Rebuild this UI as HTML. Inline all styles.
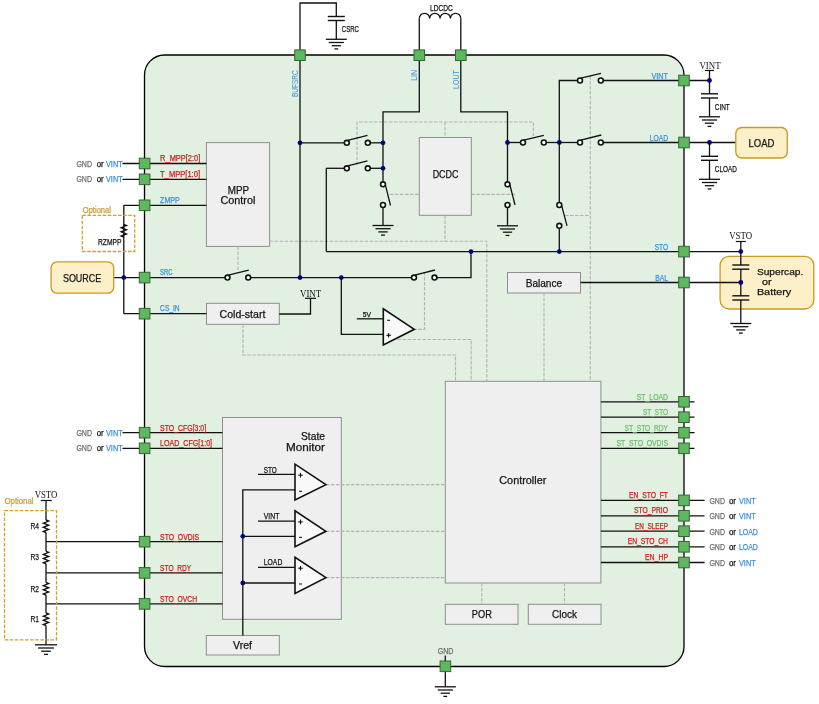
<!DOCTYPE html>
<html><head><meta charset="utf-8"><style>
html,body{margin:0;padding:0;background:#fff;width:819px;height:704px;overflow:hidden}
svg{display:block;will-change:transform}
</style></head><body>
<svg width="819" height="704" viewBox="0 0 819 704">
<rect width="819" height="704" fill="#fff"/>
<rect x="144.5" y="55" width="539.5" height="611.5" rx="20" fill="#e2f0e2" stroke="#000" stroke-width="1.3"/>
<rect x="206.4" y="142.6" width="63.20000000000002" height="103.80000000000001" rx="0" fill="#efefef" stroke="#8e8e8e" stroke-width="1"/>
<rect x="419.3" y="137.5" width="52.0" height="77.80000000000001" rx="0" fill="#efefef" stroke="#8e8e8e" stroke-width="1"/>
<rect x="507.5" y="272.5" width="73.0" height="20.5" rx="0" fill="#efefef" stroke="#8e8e8e" stroke-width="1"/>
<rect x="206.5" y="303.3" width="72.80000000000001" height="21.0" rx="0" fill="#efefef" stroke="#8e8e8e" stroke-width="1"/>
<rect x="445.3" y="381.3" width="155.59999999999997" height="201.7" rx="0" fill="#efefef" stroke="#8e8e8e" stroke-width="1"/>
<rect x="445.3" y="604.3" width="72.69999999999999" height="20.0" rx="0" fill="#efefef" stroke="#8e8e8e" stroke-width="1"/>
<rect x="528.3" y="604.3" width="72.70000000000005" height="20.0" rx="0" fill="#efefef" stroke="#8e8e8e" stroke-width="1"/>
<rect x="222.5" y="417.5" width="118.80000000000001" height="201.79999999999995" rx="0" fill="#efefef" stroke="#8e8e8e" stroke-width="1"/>
<rect x="206.3" y="635.5" width="73.0" height="19.5" rx="0" fill="#efefef" stroke="#8e8e8e" stroke-width="1"/>
<polyline points="357,165 357,122 533.3,122 533.3,136" stroke="#b3b3b3" stroke-width="1.15" fill="none" stroke-dasharray="3.6 1.4"/>
<polyline points="445,122 445,137.5" stroke="#b3b3b3" stroke-width="1.15" fill="none" stroke-dasharray="3.6 1.4"/>
<polyline points="390,194.3 419.3,194.3" stroke="#b3b3b3" stroke-width="1.15" fill="none" stroke-dasharray="3.6 1.4"/>
<polyline points="471.3,194.3 515,194.3" stroke="#b3b3b3" stroke-width="1.15" fill="none" stroke-dasharray="3.6 1.4"/>
<polyline points="445,215.3 445,241.2" stroke="#b3b3b3" stroke-width="1.15" fill="none" stroke-dasharray="3.6 1.4"/>
<polyline points="269.6,241.2 486.8,241.2 486.8,381.3" stroke="#b3b3b3" stroke-width="1.15" fill="none" stroke-dasharray="3.6 1.4"/>
<polyline points="238,246.4 238,271" stroke="#b3b3b3" stroke-width="1.15" fill="none" stroke-dasharray="3.6 1.4"/>
<polyline points="424.5,272 424.5,329.3 414.3,329.3" stroke="#b3b3b3" stroke-width="1.15" fill="none" stroke-dasharray="3.6 1.4"/>
<polyline points="397.5,339.5 471.2,339.5 471.2,381.3" stroke="#b3b3b3" stroke-width="1.15" fill="none" stroke-dasharray="3.6 1.4"/>
<polyline points="243,324.3 243,355 455.5,355 455.5,381.3" stroke="#b3b3b3" stroke-width="1.15" fill="none" stroke-dasharray="3.6 1.4"/>
<polyline points="544,293 544,381.3" stroke="#b3b3b3" stroke-width="1.15" fill="none" stroke-dasharray="3.6 1.4"/>
<polyline points="590.3,76 590.3,381.3" stroke="#b3b3b3" stroke-width="1.15" fill="none" stroke-dasharray="3.6 1.4"/>
<polyline points="565,215.5 590.3,215.5" stroke="#b3b3b3" stroke-width="1.15" fill="none" stroke-dasharray="3.6 1.4"/>
<polyline points="325.9,484.6 445.3,484.6" stroke="#b3b3b3" stroke-width="1.15" fill="none" stroke-dasharray="3.6 1.4"/>
<polyline points="325.9,531.3 445.3,531.3" stroke="#b3b3b3" stroke-width="1.15" fill="none" stroke-dasharray="3.6 1.4"/>
<polyline points="325.9,577.6 445.3,577.6" stroke="#b3b3b3" stroke-width="1.15" fill="none" stroke-dasharray="3.6 1.4"/>
<polyline points="481.8,583 481.8,604.3" stroke="#b3b3b3" stroke-width="1.15" fill="none" stroke-dasharray="3.6 1.4"/>
<polyline points="564.5,583 564.5,604.3" stroke="#b3b3b3" stroke-width="1.15" fill="none" stroke-dasharray="3.6 1.4"/>
<rect x="720.1" y="256.3" width="93.69999999999993" height="52.69999999999999" rx="9" fill="#fdf0c9" stroke="#c99a1e" stroke-width="1.3"/>
<line x1="122.5" y1="163.5" x2="206.4" y2="163.5" stroke="#111" stroke-width="1.3"/>
<line x1="122.5" y1="179.3" x2="206.4" y2="179.3" stroke="#111" stroke-width="1.3"/>
<line x1="122.5" y1="432.7" x2="222.5" y2="432.7" stroke="#111" stroke-width="1.3"/>
<line x1="122.5" y1="448.3" x2="222.5" y2="448.3" stroke="#111" stroke-width="1.3"/>
<line x1="123.8" y1="205.3" x2="206.4" y2="205.3" stroke="#111" stroke-width="1.3"/>
<line x1="123.8" y1="205.3" x2="123.8" y2="313.7" stroke="#111" stroke-width="1.3"/>
<line x1="113.7" y1="277.6" x2="225" y2="277.6" stroke="#111" stroke-width="1.3"/>
<line x1="250.7" y1="277.6" x2="411.5" y2="277.6" stroke="#111" stroke-width="1.3"/>
<line x1="123.8" y1="313.7" x2="206.5" y2="313.7" stroke="#111" stroke-width="1.3"/>
<polyline points="279.3,314 310.5,314 310.5,298.3" stroke="#111" stroke-width="1.3" fill="none" stroke-linejoin="miter"/>
<line x1="305" y1="298.3" x2="316" y2="298.3" stroke="#111" stroke-width="1.2"/>
<polyline points="300,277.6 300,3 336.3,3 336.3,16.5" stroke="#111" stroke-width="1.3" fill="none" stroke-linejoin="miter"/>
<line x1="336.3" y1="20.5" x2="336.3" y2="39.3" stroke="#111" stroke-width="1.3"/>
<line x1="327.8" y1="16.5" x2="344.8" y2="16.5" stroke="#111" stroke-width="1.4"/>
<line x1="327.8" y1="20.5" x2="344.8" y2="20.5" stroke="#111" stroke-width="1.4"/>
<line x1="325.8" y1="39.3" x2="346.8" y2="39.3" stroke="#111" stroke-width="1.3"/>
<line x1="328.74" y1="42.5" x2="343.86" y2="42.5" stroke="#111" stroke-width="1.3"/>
<line x1="331.68" y1="45.699999999999996" x2="340.92" y2="45.699999999999996" stroke="#111" stroke-width="1.3"/>
<line x1="334.41" y1="48.9" x2="338.19" y2="48.9" stroke="#111" stroke-width="1.3"/>
<line x1="300" y1="142.8" x2="344.2" y2="142.8" stroke="#111" stroke-width="1.3"/>
<line x1="370.3" y1="142.8" x2="383" y2="142.8" stroke="#111" stroke-width="1.3"/>
<line x1="326.3" y1="251.5" x2="326.3" y2="168.3" stroke="#111" stroke-width="1.3"/>
<line x1="326.3" y1="168.3" x2="344.2" y2="168.3" stroke="#111" stroke-width="1.3"/>
<line x1="370.3" y1="168.3" x2="383" y2="168.3" stroke="#111" stroke-width="1.3"/>
<polyline points="419.3,55 419.3,111.8 383,111.8 383,181.7" stroke="#111" stroke-width="1.3" fill="none" stroke-linejoin="miter"/>
<line x1="383" y1="207.5" x2="383" y2="225.5" stroke="#111" stroke-width="1.3"/>
<line x1="372.5" y1="225.5" x2="393.5" y2="225.5" stroke="#111" stroke-width="1.3"/>
<line x1="375.44" y1="228.7" x2="390.56" y2="228.7" stroke="#111" stroke-width="1.3"/>
<line x1="378.38" y1="231.9" x2="387.62" y2="231.9" stroke="#111" stroke-width="1.3"/>
<line x1="381.11" y1="235.1" x2="384.89" y2="235.1" stroke="#111" stroke-width="1.3"/>
<polyline points="419.3,55 419.3,18.5" stroke="#111" stroke-width="1.3" fill="none" stroke-linejoin="miter"/>
<polyline points="460.8,55 460.8,18.5" stroke="#111" stroke-width="1.3" fill="none" stroke-linejoin="miter"/>
<polyline points="460.8,55 460.8,111.8 507.5,111.8 507.5,181.7" stroke="#111" stroke-width="1.3" fill="none" stroke-linejoin="miter"/>
<line x1="507.5" y1="142.5" x2="520.5" y2="142.5" stroke="#111" stroke-width="1.3"/>
<line x1="546.2" y1="142.5" x2="577.5" y2="142.5" stroke="#111" stroke-width="1.3"/>
<line x1="507.5" y1="207.5" x2="507.5" y2="225.8" stroke="#111" stroke-width="1.3"/>
<line x1="497.0" y1="225.8" x2="518.0" y2="225.8" stroke="#111" stroke-width="1.3"/>
<line x1="499.94" y1="229.0" x2="515.06" y2="229.0" stroke="#111" stroke-width="1.3"/>
<line x1="502.88" y1="232.20000000000002" x2="512.12" y2="232.20000000000002" stroke="#111" stroke-width="1.3"/>
<line x1="505.61" y1="235.4" x2="509.39" y2="235.4" stroke="#111" stroke-width="1.3"/>
<polyline points="577.5,80.5 559.3,80.5 559.3,202.5" stroke="#111" stroke-width="1.3" fill="none" stroke-linejoin="miter"/>
<line x1="559.3" y1="228.3" x2="559.3" y2="251.6" stroke="#111" stroke-width="1.3"/>
<line x1="603.2" y1="80.5" x2="709.5" y2="80.5" stroke="#111" stroke-width="1.3"/>
<line x1="603.2" y1="142.5" x2="735.8" y2="142.5" stroke="#111" stroke-width="1.3"/>
<line x1="326.3" y1="251.6" x2="740.8" y2="251.6" stroke="#111" stroke-width="1.3"/>
<polyline points="471,251.6 471,277.6 437,277.6" stroke="#111" stroke-width="1.3" fill="none" stroke-linejoin="miter"/>
<line x1="580.5" y1="282.5" x2="740.8" y2="282.5" stroke="#111" stroke-width="1.3"/>
<polyline points="341.3,277.6 341.3,334.3 383.3,334.3" stroke="#111" stroke-width="1.3" fill="none" stroke-linejoin="miter"/>
<line x1="356.8" y1="318.8" x2="383.3" y2="318.8" stroke="#111" stroke-width="1.3"/>
<polyline points="709.5,70.5 709.5,93.8" stroke="#111" stroke-width="1.3" fill="none" stroke-linejoin="miter"/>
<line x1="705" y1="70.5" x2="714" y2="70.5" stroke="#111" stroke-width="1.2"/>
<line x1="701.0" y1="93.8" x2="718.0" y2="93.8" stroke="#111" stroke-width="1.4"/>
<line x1="701.0" y1="98" x2="718.0" y2="98" stroke="#111" stroke-width="1.4"/>
<line x1="709.5" y1="98" x2="709.5" y2="116.8" stroke="#111" stroke-width="1.3"/>
<line x1="699.0" y1="116.8" x2="720.0" y2="116.8" stroke="#111" stroke-width="1.3"/>
<line x1="701.94" y1="120.0" x2="717.06" y2="120.0" stroke="#111" stroke-width="1.3"/>
<line x1="704.88" y1="123.2" x2="714.12" y2="123.2" stroke="#111" stroke-width="1.3"/>
<line x1="707.61" y1="126.39999999999999" x2="711.39" y2="126.39999999999999" stroke="#111" stroke-width="1.3"/>
<line x1="709.5" y1="142.5" x2="709.5" y2="156.3" stroke="#111" stroke-width="1.3"/>
<line x1="701.0" y1="156.3" x2="718.0" y2="156.3" stroke="#111" stroke-width="1.4"/>
<line x1="701.0" y1="160.3" x2="718.0" y2="160.3" stroke="#111" stroke-width="1.4"/>
<line x1="709.5" y1="160.3" x2="709.5" y2="179.3" stroke="#111" stroke-width="1.3"/>
<line x1="699.0" y1="179.3" x2="720.0" y2="179.3" stroke="#111" stroke-width="1.3"/>
<line x1="701.94" y1="182.5" x2="717.06" y2="182.5" stroke="#111" stroke-width="1.3"/>
<line x1="704.88" y1="185.70000000000002" x2="714.12" y2="185.70000000000002" stroke="#111" stroke-width="1.3"/>
<line x1="707.61" y1="188.9" x2="711.39" y2="188.9" stroke="#111" stroke-width="1.3"/>
<line x1="735.8" y1="241.5" x2="745.8" y2="241.5" stroke="#111" stroke-width="1.2"/>
<line x1="740.8" y1="241.5" x2="740.8" y2="265" stroke="#111" stroke-width="1.3"/>
<line x1="732.3" y1="265" x2="749.3" y2="265" stroke="#111" stroke-width="1.4"/>
<line x1="732.3" y1="269.2" x2="749.3" y2="269.2" stroke="#111" stroke-width="1.4"/>
<line x1="740.8" y1="269.2" x2="740.8" y2="295.8" stroke="#111" stroke-width="1.3"/>
<line x1="732.3" y1="295.8" x2="749.3" y2="295.8" stroke="#111" stroke-width="1.4"/>
<line x1="732.3" y1="300" x2="749.3" y2="300" stroke="#111" stroke-width="1.4"/>
<line x1="740.8" y1="300" x2="740.8" y2="323.5" stroke="#111" stroke-width="1.3"/>
<line x1="730.3" y1="323.5" x2="751.3" y2="323.5" stroke="#111" stroke-width="1.3"/>
<line x1="733.24" y1="326.7" x2="748.3599999999999" y2="326.7" stroke="#111" stroke-width="1.3"/>
<line x1="736.18" y1="329.9" x2="745.42" y2="329.9" stroke="#111" stroke-width="1.3"/>
<line x1="738.91" y1="333.1" x2="742.6899999999999" y2="333.1" stroke="#111" stroke-width="1.3"/>
<line x1="600.9" y1="401.8" x2="694.5" y2="401.8" stroke="#111" stroke-width="1.3"/>
<line x1="600.9" y1="417.2" x2="694.5" y2="417.2" stroke="#111" stroke-width="1.3"/>
<line x1="600.9" y1="432.7" x2="694.5" y2="432.7" stroke="#111" stroke-width="1.3"/>
<line x1="600.9" y1="448.3" x2="694.5" y2="448.3" stroke="#111" stroke-width="1.3"/>
<line x1="600.9" y1="500.4" x2="704.6" y2="500.4" stroke="#111" stroke-width="1.3"/>
<line x1="600.9" y1="515.8" x2="704.6" y2="515.8" stroke="#111" stroke-width="1.3"/>
<line x1="600.9" y1="531.2" x2="704.6" y2="531.2" stroke="#111" stroke-width="1.3"/>
<line x1="600.9" y1="546.8" x2="704.6" y2="546.8" stroke="#111" stroke-width="1.3"/>
<line x1="600.9" y1="562.5" x2="704.6" y2="562.5" stroke="#111" stroke-width="1.3"/>
<line x1="445.3" y1="655.5" x2="445.3" y2="686.8" stroke="#111" stroke-width="1.3"/>
<line x1="434.8" y1="686.8" x2="455.8" y2="686.8" stroke="#111" stroke-width="1.3"/>
<line x1="437.74" y1="690.0" x2="452.86" y2="690.0" stroke="#111" stroke-width="1.3"/>
<line x1="440.68" y1="693.1999999999999" x2="449.92" y2="693.1999999999999" stroke="#111" stroke-width="1.3"/>
<line x1="443.41" y1="696.4" x2="447.19" y2="696.4" stroke="#111" stroke-width="1.3"/>
<line x1="40.8" y1="500.5" x2="51.8" y2="500.5" stroke="#111" stroke-width="1.2"/>
<line x1="46" y1="500.5" x2="46" y2="520" stroke="#111" stroke-width="1.3"/>
<line x1="46" y1="532.5" x2="46" y2="551.3" stroke="#111" stroke-width="1.3"/>
<line x1="46" y1="563.8" x2="46" y2="582.5" stroke="#111" stroke-width="1.3"/>
<line x1="46" y1="595" x2="46" y2="613" stroke="#111" stroke-width="1.3"/>
<line x1="46" y1="625.5" x2="46" y2="644.8" stroke="#111" stroke-width="1.3"/>
<line x1="35.0" y1="644.8" x2="57.0" y2="644.8" stroke="#111" stroke-width="1.3"/>
<line x1="38.08" y1="648.0" x2="53.92" y2="648.0" stroke="#111" stroke-width="1.3"/>
<line x1="41.16" y1="651.1999999999999" x2="50.84" y2="651.1999999999999" stroke="#111" stroke-width="1.3"/>
<line x1="44.02" y1="654.4" x2="47.98" y2="654.4" stroke="#111" stroke-width="1.3"/>
<line x1="46" y1="541.7" x2="222.5" y2="541.7" stroke="#111" stroke-width="1.3"/>
<line x1="46" y1="572.9" x2="222.5" y2="572.9" stroke="#111" stroke-width="1.3"/>
<line x1="46" y1="603.9" x2="222.5" y2="603.9" stroke="#111" stroke-width="1.3"/>
<line x1="258" y1="474.4" x2="295" y2="474.4" stroke="#111" stroke-width="1.3"/>
<line x1="258" y1="521.2" x2="295" y2="521.2" stroke="#111" stroke-width="1.3"/>
<line x1="258" y1="567.3" x2="295" y2="567.3" stroke="#111" stroke-width="1.3"/>
<polyline points="295,489.8 242.8,489.8 242.8,635.5" stroke="#111" stroke-width="1.3" fill="none" stroke-linejoin="miter"/>
<line x1="242.8" y1="536.3" x2="295" y2="536.3" stroke="#111" stroke-width="1.3"/>
<line x1="242.8" y1="583" x2="295" y2="583" stroke="#111" stroke-width="1.3"/>
<polyline points="123.8,224.5 126.39999999999999,225.55 121.2,227.65 126.39999999999999,229.75 121.2,231.85 126.39999999999999,233.95 121.2,236.04999999999998 123.8,237.1" stroke="#111" stroke-width="1.4" fill="none" stroke-linejoin="miter"/>
<polyline points="46,520 48.6,521.0416666666666 43.4,523.125 48.6,525.2083333333334 43.4,527.2916666666666 48.6,529.375 43.4,531.4583333333334 46,532.5" stroke="#111" stroke-width="1.4" fill="none" stroke-linejoin="miter"/>
<polyline points="46,551.3 48.6,552.3416666666666 43.4,554.425 48.6,556.5083333333333 43.4,558.5916666666666 48.6,560.675 43.4,562.7583333333333 46,563.8" stroke="#111" stroke-width="1.4" fill="none" stroke-linejoin="miter"/>
<polyline points="46,582.5 48.6,583.5416666666666 43.4,585.625 48.6,587.7083333333334 43.4,589.7916666666666 48.6,591.875 43.4,593.9583333333334 46,595" stroke="#111" stroke-width="1.4" fill="none" stroke-linejoin="miter"/>
<polyline points="46,613 48.6,614.0416666666666 43.4,616.125 48.6,618.2083333333334 43.4,620.2916666666666 48.6,622.375 43.4,624.4583333333334 46,625.5" stroke="#111" stroke-width="1.4" fill="none" stroke-linejoin="miter"/>
<path d="M419.3,18.5 a5.1875,5.1875 0 0 1 10.375,0 a5.1875,5.1875 0 0 1 10.375,0 a5.1875,5.1875 0 0 1 10.375,0 a5.1875,5.1875 0 0 1 10.375,0 " fill="none" stroke="#111" stroke-width="1.3"/>
<circle cx="227.5" cy="277.6" r="2.45" fill="#fff" stroke="#111" stroke-width="1.6"/>
<circle cx="248.2" cy="277.6" r="2.45" fill="#fff" stroke="#111" stroke-width="1.6"/>
<line x1="228.3" y1="275.20000000000005" x2="248.8" y2="270.2" stroke="#111" stroke-width="1.3"/>
<circle cx="346.8" cy="142.8" r="2.45" fill="#fff" stroke="#111" stroke-width="1.6"/>
<circle cx="367.8" cy="142.8" r="2.45" fill="#fff" stroke="#111" stroke-width="1.6"/>
<line x1="347.6" y1="140.4" x2="367.5" y2="135.3" stroke="#111" stroke-width="1.3"/>
<circle cx="346.8" cy="168.3" r="2.45" fill="#fff" stroke="#111" stroke-width="1.6"/>
<circle cx="367.8" cy="168.3" r="2.45" fill="#fff" stroke="#111" stroke-width="1.6"/>
<line x1="347.6" y1="165.9" x2="367.5" y2="160.8" stroke="#111" stroke-width="1.3"/>
<circle cx="383" cy="184.3" r="2.45" fill="#fff" stroke="#111" stroke-width="1.6"/>
<circle cx="383" cy="205" r="2.45" fill="#fff" stroke="#111" stroke-width="1.6"/>
<line x1="385.4" y1="184.9" x2="390.5" y2="205.5" stroke="#111" stroke-width="1.3"/>
<circle cx="414" cy="277.6" r="2.45" fill="#fff" stroke="#111" stroke-width="1.6"/>
<circle cx="434.5" cy="277.6" r="2.45" fill="#fff" stroke="#111" stroke-width="1.6"/>
<line x1="414.8" y1="275.20000000000005" x2="435" y2="270" stroke="#111" stroke-width="1.3"/>
<circle cx="523" cy="142.5" r="2.45" fill="#fff" stroke="#111" stroke-width="1.6"/>
<circle cx="543.8" cy="142.5" r="2.45" fill="#fff" stroke="#111" stroke-width="1.6"/>
<line x1="523.8" y1="140.1" x2="543.8" y2="135.3" stroke="#111" stroke-width="1.3"/>
<circle cx="580" cy="142.5" r="2.45" fill="#fff" stroke="#111" stroke-width="1.6"/>
<circle cx="600.8" cy="142.5" r="2.45" fill="#fff" stroke="#111" stroke-width="1.6"/>
<line x1="580.8" y1="140.1" x2="601.3" y2="135" stroke="#111" stroke-width="1.3"/>
<circle cx="580" cy="80.5" r="2.45" fill="#fff" stroke="#111" stroke-width="1.6"/>
<circle cx="600.8" cy="80.5" r="2.45" fill="#fff" stroke="#111" stroke-width="1.6"/>
<line x1="580.8" y1="78.1" x2="601" y2="73.3" stroke="#111" stroke-width="1.3"/>
<circle cx="507.5" cy="184.3" r="2.45" fill="#fff" stroke="#111" stroke-width="1.6"/>
<circle cx="507.5" cy="205" r="2.45" fill="#fff" stroke="#111" stroke-width="1.6"/>
<line x1="509.9" y1="184.9" x2="515" y2="205" stroke="#111" stroke-width="1.3"/>
<circle cx="559.3" cy="205" r="2.45" fill="#fff" stroke="#111" stroke-width="1.6"/>
<circle cx="559.3" cy="225.8" r="2.45" fill="#fff" stroke="#111" stroke-width="1.6"/>
<line x1="561.6999999999999" y1="205.6" x2="567" y2="225.8" stroke="#111" stroke-width="1.3"/>
<polygon points="383.3,308.8 383.3,345 414.3,329.3" fill="#f9f9f9" stroke="#111" stroke-width="1.6" stroke-linejoin="miter"/>
<polygon points="295,464.2 295,500 325.9,484.6" fill="#f9f9f9" stroke="#111" stroke-width="1.6" stroke-linejoin="miter"/>
<polygon points="295,510.8 295,546.8 325.9,531.3" fill="#f9f9f9" stroke="#111" stroke-width="1.6" stroke-linejoin="miter"/>
<polygon points="295,557.3 295,593.5 325.9,577.6" fill="#f9f9f9" stroke="#111" stroke-width="1.6" stroke-linejoin="miter"/>
<line x1="298.2" y1="475.2" x2="302.8" y2="475.2" stroke="#111" stroke-width="1.1"/>
<line x1="300.5" y1="472.9" x2="300.5" y2="477.5" stroke="#111" stroke-width="1.1"/>
<line x1="299.1" y1="491.3" x2="301.9" y2="491.3" stroke="#111" stroke-width="1.1"/>
<line x1="298.2" y1="521.9" x2="302.8" y2="521.9" stroke="#111" stroke-width="1.1"/>
<line x1="300.5" y1="519.6" x2="300.5" y2="524.1999999999999" stroke="#111" stroke-width="1.1"/>
<line x1="299.1" y1="537.3" x2="301.9" y2="537.3" stroke="#111" stroke-width="1.1"/>
<line x1="298.2" y1="568.2" x2="302.8" y2="568.2" stroke="#111" stroke-width="1.1"/>
<line x1="300.5" y1="565.9000000000001" x2="300.5" y2="570.5" stroke="#111" stroke-width="1.1"/>
<line x1="299.1" y1="584" x2="301.9" y2="584" stroke="#111" stroke-width="1.1"/>
<line x1="387.20000000000005" y1="320.3" x2="390.0" y2="320.3" stroke="#111" stroke-width="1.1"/>
<line x1="386.3" y1="335.3" x2="390.90000000000003" y2="335.3" stroke="#111" stroke-width="1.1"/>
<line x1="388.6" y1="333.0" x2="388.6" y2="337.6" stroke="#111" stroke-width="1.1"/>
<circle cx="123.8" cy="277.6" r="2.4" fill="#00007a"/>
<circle cx="300" cy="142.8" r="2.4" fill="#00007a"/>
<circle cx="383" cy="142.8" r="2.4" fill="#00007a"/>
<circle cx="383" cy="168.3" r="2.4" fill="#00007a"/>
<circle cx="300" cy="277.6" r="2.4" fill="#00007a"/>
<circle cx="341.3" cy="277.6" r="2.4" fill="#00007a"/>
<circle cx="471" cy="251.6" r="2.4" fill="#00007a"/>
<circle cx="507.5" cy="142.5" r="2.4" fill="#00007a"/>
<circle cx="559.3" cy="142.5" r="2.4" fill="#00007a"/>
<circle cx="559.3" cy="251.6" r="2.4" fill="#00007a"/>
<circle cx="709.5" cy="80.5" r="2.4" fill="#00007a"/>
<circle cx="709.5" cy="142.5" r="2.4" fill="#00007a"/>
<circle cx="740.8" cy="251.6" r="2.4" fill="#00007a"/>
<circle cx="740.8" cy="282.5" r="2.4" fill="#00007a"/>
<circle cx="242.8" cy="536.3" r="2.4" fill="#00007a"/>
<circle cx="242.8" cy="583" r="2.4" fill="#00007a"/>
<rect x="139.29999999999998" y="158.2" width="10.6" height="10.6" fill="#5db85e" stroke="#356535" stroke-width="1"/>
<rect x="139.29999999999998" y="174.0" width="10.6" height="10.6" fill="#5db85e" stroke="#356535" stroke-width="1"/>
<rect x="139.29999999999998" y="200.0" width="10.6" height="10.6" fill="#5db85e" stroke="#356535" stroke-width="1"/>
<rect x="139.29999999999998" y="272.3" width="10.6" height="10.6" fill="#5db85e" stroke="#356535" stroke-width="1"/>
<rect x="139.29999999999998" y="308.4" width="10.6" height="10.6" fill="#5db85e" stroke="#356535" stroke-width="1"/>
<rect x="139.29999999999998" y="427.4" width="10.6" height="10.6" fill="#5db85e" stroke="#356535" stroke-width="1"/>
<rect x="139.29999999999998" y="443.0" width="10.6" height="10.6" fill="#5db85e" stroke="#356535" stroke-width="1"/>
<rect x="139.29999999999998" y="536.4000000000001" width="10.6" height="10.6" fill="#5db85e" stroke="#356535" stroke-width="1"/>
<rect x="139.29999999999998" y="567.6" width="10.6" height="10.6" fill="#5db85e" stroke="#356535" stroke-width="1"/>
<rect x="139.29999999999998" y="598.6" width="10.6" height="10.6" fill="#5db85e" stroke="#356535" stroke-width="1"/>
<rect x="294.7" y="49.900000000000006" width="10.6" height="10.6" fill="#5db85e" stroke="#356535" stroke-width="1"/>
<rect x="414.0" y="49.900000000000006" width="10.6" height="10.6" fill="#5db85e" stroke="#356535" stroke-width="1"/>
<rect x="455.5" y="49.900000000000006" width="10.6" height="10.6" fill="#5db85e" stroke="#356535" stroke-width="1"/>
<rect x="678.7" y="75.2" width="10.6" height="10.6" fill="#5db85e" stroke="#356535" stroke-width="1"/>
<rect x="678.7" y="137.2" width="10.6" height="10.6" fill="#5db85e" stroke="#356535" stroke-width="1"/>
<rect x="678.7" y="246.29999999999998" width="10.6" height="10.6" fill="#5db85e" stroke="#356535" stroke-width="1"/>
<rect x="678.7" y="277.2" width="10.6" height="10.6" fill="#5db85e" stroke="#356535" stroke-width="1"/>
<rect x="678.7" y="396.5" width="10.6" height="10.6" fill="#5db85e" stroke="#356535" stroke-width="1"/>
<rect x="678.7" y="411.9" width="10.6" height="10.6" fill="#5db85e" stroke="#356535" stroke-width="1"/>
<rect x="678.7" y="427.4" width="10.6" height="10.6" fill="#5db85e" stroke="#356535" stroke-width="1"/>
<rect x="678.7" y="443.0" width="10.6" height="10.6" fill="#5db85e" stroke="#356535" stroke-width="1"/>
<rect x="678.7" y="495.09999999999997" width="10.6" height="10.6" fill="#5db85e" stroke="#356535" stroke-width="1"/>
<rect x="678.7" y="510.49999999999994" width="10.6" height="10.6" fill="#5db85e" stroke="#356535" stroke-width="1"/>
<rect x="678.7" y="525.9000000000001" width="10.6" height="10.6" fill="#5db85e" stroke="#356535" stroke-width="1"/>
<rect x="678.7" y="541.5" width="10.6" height="10.6" fill="#5db85e" stroke="#356535" stroke-width="1"/>
<rect x="678.7" y="557.2" width="10.6" height="10.6" fill="#5db85e" stroke="#356535" stroke-width="1"/>
<rect x="440.09999999999997" y="661.0" width="10.6" height="10.6" fill="#5db85e" stroke="#356535" stroke-width="1"/>
<rect x="51.1" y="261.8" width="62.6" height="31.399999999999977" rx="6" fill="#fdf0c9" stroke="#c99a1e" stroke-width="1.3"/>
<rect x="735.8" y="127.5" width="51.5" height="30.5" rx="6" fill="#fdf0c9" stroke="#c99a1e" stroke-width="1.3"/>
<rect x="82.3" y="215.3" width="52.4" height="36.2" fill="none" stroke="#d4a02a" stroke-width="1.3" stroke-dasharray="3.6 1.5"/>
<rect x="4.5" y="510.6" width="52" height="129.2" fill="none" stroke="#d4a02a" stroke-width="1.3" stroke-dasharray="3.6 1.5"/>
<text x="76.4" y="166.5" font-family="Liberation Sans" font-size="8.4" fill="#6e6e6e" stroke="#6e6e6e" stroke-width="0.25" text-anchor="start" textLength="15.6" lengthAdjust="spacingAndGlyphs">GND</text>
<text x="96.7" y="166.5" font-family="Liberation Sans" font-size="8.3" fill="#151515" stroke="#151515" stroke-width="0.25" text-anchor="start" textLength="7" lengthAdjust="spacingAndGlyphs">or</text>
<text x="106" y="166.5" font-family="Liberation Sans" font-size="8.3" fill="#3d8fe0" stroke="#3d8fe0" stroke-width="0.25" text-anchor="start" textLength="16.6" lengthAdjust="spacingAndGlyphs">VINT</text>
<text x="76.4" y="182.3" font-family="Liberation Sans" font-size="8.4" fill="#6e6e6e" stroke="#6e6e6e" stroke-width="0.25" text-anchor="start" textLength="15.6" lengthAdjust="spacingAndGlyphs">GND</text>
<text x="96.7" y="182.3" font-family="Liberation Sans" font-size="8.3" fill="#151515" stroke="#151515" stroke-width="0.25" text-anchor="start" textLength="7" lengthAdjust="spacingAndGlyphs">or</text>
<text x="106" y="182.3" font-family="Liberation Sans" font-size="8.3" fill="#3d8fe0" stroke="#3d8fe0" stroke-width="0.25" text-anchor="start" textLength="16.6" lengthAdjust="spacingAndGlyphs">VINT</text>
<text x="76.4" y="435.7" font-family="Liberation Sans" font-size="8.4" fill="#6e6e6e" stroke="#6e6e6e" stroke-width="0.25" text-anchor="start" textLength="15.6" lengthAdjust="spacingAndGlyphs">GND</text>
<text x="96.7" y="435.7" font-family="Liberation Sans" font-size="8.3" fill="#151515" stroke="#151515" stroke-width="0.25" text-anchor="start" textLength="7" lengthAdjust="spacingAndGlyphs">or</text>
<text x="106" y="435.7" font-family="Liberation Sans" font-size="8.3" fill="#3d8fe0" stroke="#3d8fe0" stroke-width="0.25" text-anchor="start" textLength="16.6" lengthAdjust="spacingAndGlyphs">VINT</text>
<text x="76.4" y="451.3" font-family="Liberation Sans" font-size="8.4" fill="#6e6e6e" stroke="#6e6e6e" stroke-width="0.25" text-anchor="start" textLength="15.6" lengthAdjust="spacingAndGlyphs">GND</text>
<text x="96.7" y="451.3" font-family="Liberation Sans" font-size="8.3" fill="#151515" stroke="#151515" stroke-width="0.25" text-anchor="start" textLength="7" lengthAdjust="spacingAndGlyphs">or</text>
<text x="106" y="451.3" font-family="Liberation Sans" font-size="8.3" fill="#3d8fe0" stroke="#3d8fe0" stroke-width="0.25" text-anchor="start" textLength="16.6" lengthAdjust="spacingAndGlyphs">VINT</text>
<text x="160.1" y="161.2" font-family="Liberation Sans" font-size="8.3" fill="#d01c1c" stroke="#d01c1c" stroke-width="0.25" text-anchor="start" textLength="40.2" lengthAdjust="spacingAndGlyphs">R_MPP[2:0]</text>
<text x="160.1" y="176.9" font-family="Liberation Sans" font-size="8.3" fill="#d01c1c" stroke="#d01c1c" stroke-width="0.25" text-anchor="start" textLength="39.9" lengthAdjust="spacingAndGlyphs">T_MPP[1:0]</text>
<text x="160.1" y="202.7" font-family="Liberation Sans" font-size="8.3" fill="#3d8fe0" stroke="#3d8fe0" stroke-width="0.25" text-anchor="start" textLength="19.7" lengthAdjust="spacingAndGlyphs">ZMPP</text>
<text x="160.1" y="275" font-family="Liberation Sans" font-size="8.3" fill="#3d8fe0" stroke="#3d8fe0" stroke-width="0.25" text-anchor="start" textLength="12.5" lengthAdjust="spacingAndGlyphs">SRC</text>
<text x="160.1" y="311" font-family="Liberation Sans" font-size="8.3" fill="#3d8fe0" stroke="#3d8fe0" stroke-width="0.25" text-anchor="start" textLength="19.5" lengthAdjust="spacingAndGlyphs">CS_IN</text>
<text x="82.8" y="212.9" font-family="Liberation Sans" font-size="8.3" fill="#c9a032" stroke="#c9a032" stroke-width="0.25" text-anchor="start" textLength="28.1" lengthAdjust="spacingAndGlyphs">Optional</text>
<text x="98" y="245.2" font-family="Liberation Sans" font-size="8.3" fill="#151515" stroke="#151515" stroke-width="0.25" text-anchor="start" textLength="23.6" lengthAdjust="spacingAndGlyphs">RZMPP</text>
<text x="62.9" y="281.8" font-family="Liberation Sans" font-size="10.3" fill="#151515" stroke="#151515" stroke-width="0.25" text-anchor="start" textLength="38.4" lengthAdjust="spacingAndGlyphs">SOURCE</text>
<text x="227.7" y="193.9" font-family="Liberation Sans" font-size="10.2" fill="#151515" stroke="#151515" stroke-width="0.25" text-anchor="start" textLength="21.3" lengthAdjust="spacingAndGlyphs">MPP</text>
<text x="220.5" y="203.9" font-family="Liberation Sans" font-size="10.2" fill="#151515" stroke="#151515" stroke-width="0.25" text-anchor="start" textLength="34.9" lengthAdjust="spacingAndGlyphs">Control</text>
<text transform="translate(297.8,97) rotate(-90)" font-family="Liberation Sans" font-size="8.3" fill="#3d8fe0" textLength="26.7" lengthAdjust="spacingAndGlyphs">BUFSRC</text>
<text transform="translate(416.6,80.8) rotate(-90)" font-family="Liberation Sans" font-size="8.3" fill="#3d8fe0" textLength="10.9" lengthAdjust="spacingAndGlyphs">LIN</text>
<text transform="translate(458.9,89) rotate(-90)" font-family="Liberation Sans" font-size="8.3" fill="#3d8fe0" textLength="18.8" lengthAdjust="spacingAndGlyphs">LOUT</text>
<text x="341.8" y="31.9" font-family="Liberation Sans" font-size="8.3" fill="#151515" stroke="#151515" stroke-width="0.25" text-anchor="start" textLength="17" lengthAdjust="spacingAndGlyphs">CSRC</text>
<text x="430" y="11.3" font-family="Liberation Sans" font-size="8.3" fill="#151515" stroke="#151515" stroke-width="0.25" text-anchor="start" textLength="22.8" lengthAdjust="spacingAndGlyphs">LDCDC</text>
<text x="445.6" y="177.7" font-family="Liberation Sans" font-size="10.2" fill="#151515" stroke="#151515" stroke-width="0.25" text-anchor="middle" textLength="25.9" lengthAdjust="spacingAndGlyphs">DCDC</text>
<text x="310.6" y="296.5" font-family="Liberation Serif" font-size="9.8" fill="#151515" stroke="#151515" stroke-width="0" text-anchor="middle" textLength="21.2" lengthAdjust="spacingAndGlyphs">VINT</text>
<text x="362.8" y="316.5" font-family="Liberation Sans" font-size="8.1" fill="#151515" stroke="#151515" stroke-width="0.25" text-anchor="start" textLength="8.3" lengthAdjust="spacingAndGlyphs">5V</text>
<text x="242.5" y="317.8" font-family="Liberation Sans" font-size="10.2" fill="#151515" stroke="#151515" stroke-width="0.25" text-anchor="middle" textLength="45.8" lengthAdjust="spacingAndGlyphs">Cold-start</text>
<text x="543.9" y="286.8" font-family="Liberation Sans" font-size="10.2" fill="#151515" stroke="#151515" stroke-width="0.25" text-anchor="middle" textLength="36.5" lengthAdjust="spacingAndGlyphs">Balance</text>
<text x="668" y="78.8" font-family="Liberation Sans" font-size="8.3" fill="#3d8fe0" stroke="#3d8fe0" stroke-width="0.25" text-anchor="end" textLength="16.5" lengthAdjust="spacingAndGlyphs">VINT</text>
<text x="668" y="140.5" font-family="Liberation Sans" font-size="8.3" fill="#3d8fe0" stroke="#3d8fe0" stroke-width="0.25" text-anchor="end" textLength="18.3" lengthAdjust="spacingAndGlyphs">LOAD</text>
<text x="668" y="249.5" font-family="Liberation Sans" font-size="8.3" fill="#3d8fe0" stroke="#3d8fe0" stroke-width="0.25" text-anchor="end" textLength="13.3" lengthAdjust="spacingAndGlyphs">STO</text>
<text x="668" y="280.5" font-family="Liberation Sans" font-size="8.3" fill="#3d8fe0" stroke="#3d8fe0" stroke-width="0.25" text-anchor="end" textLength="12.8" lengthAdjust="spacingAndGlyphs">BAL</text>
<text x="710" y="69.2" font-family="Liberation Serif" font-size="9.8" fill="#151515" stroke="#151515" stroke-width="0" text-anchor="middle" textLength="21.2" lengthAdjust="spacingAndGlyphs">VINT</text>
<text x="714.8" y="110" font-family="Liberation Sans" font-size="8.3" fill="#151515" stroke="#151515" stroke-width="0.25" text-anchor="start" textLength="15" lengthAdjust="spacingAndGlyphs">CINT</text>
<text x="714.8" y="172" font-family="Liberation Sans" font-size="8.3" fill="#151515" stroke="#151515" stroke-width="0.25" text-anchor="start" textLength="22" lengthAdjust="spacingAndGlyphs">CLOAD</text>
<text x="761.5" y="146.7" font-family="Liberation Sans" font-size="10.2" fill="#151515" stroke="#151515" stroke-width="0.25" text-anchor="middle" textLength="26" lengthAdjust="spacingAndGlyphs">LOAD</text>
<text x="740.7" y="239.2" font-family="Liberation Serif" font-size="9.8" fill="#151515" stroke="#151515" stroke-width="0" text-anchor="middle" textLength="23" lengthAdjust="spacingAndGlyphs">VSTO</text>
<text x="756.9" y="274.5" font-family="Liberation Sans" font-size="9.6" fill="#151515" stroke="#151515" stroke-width="0.25" text-anchor="start" textLength="46.4" lengthAdjust="spacingAndGlyphs">Supercap.</text>
<text x="762" y="284.9" font-family="Liberation Sans" font-size="9.6" fill="#151515" stroke="#151515" stroke-width="0.25" text-anchor="start" textLength="9.5" lengthAdjust="spacingAndGlyphs">or</text>
<text x="756.9" y="294.7" font-family="Liberation Sans" font-size="9.6" fill="#151515" stroke="#151515" stroke-width="0.25" text-anchor="start" textLength="34.3" lengthAdjust="spacingAndGlyphs">Battery</text>
<text x="668" y="399.8" font-family="Liberation Sans" font-size="8.3" fill="#6cc06c" stroke="#6cc06c" stroke-width="0.25" text-anchor="end" textLength="31.2" lengthAdjust="spacingAndGlyphs">ST_LOAD</text>
<text x="668" y="415.2" font-family="Liberation Sans" font-size="8.3" fill="#6cc06c" stroke="#6cc06c" stroke-width="0.25" text-anchor="end" textLength="25" lengthAdjust="spacingAndGlyphs">ST_STO</text>
<text x="668" y="430.7" font-family="Liberation Sans" font-size="8.3" fill="#6cc06c" stroke="#6cc06c" stroke-width="0.25" text-anchor="end" textLength="43.5" lengthAdjust="spacingAndGlyphs">ST_STO_RDY</text>
<text x="668" y="446.3" font-family="Liberation Sans" font-size="8.3" fill="#6cc06c" stroke="#6cc06c" stroke-width="0.25" text-anchor="end" textLength="51.5" lengthAdjust="spacingAndGlyphs">ST_STO_OVDIS</text>
<text x="668" y="497.79999999999995" font-family="Liberation Sans" font-size="8.3" fill="#d01c1c" stroke="#d01c1c" stroke-width="0.25" text-anchor="end" textLength="39" lengthAdjust="spacingAndGlyphs">EN_STO_FT</text>
<text x="709.4" y="503.79999999999995" font-family="Liberation Sans" font-size="8.4" fill="#6e6e6e" stroke="#6e6e6e" stroke-width="0.25" text-anchor="start" textLength="15.6" lengthAdjust="spacingAndGlyphs">GND</text>
<text x="729" y="503.79999999999995" font-family="Liberation Sans" font-size="8.3" fill="#151515" stroke="#151515" stroke-width="0.25" text-anchor="start" textLength="7" lengthAdjust="spacingAndGlyphs">or</text>
<text x="739" y="503.79999999999995" font-family="Liberation Sans" font-size="8.3" fill="#3d8fe0" stroke="#3d8fe0" stroke-width="0.25" text-anchor="start" textLength="16.6" lengthAdjust="spacingAndGlyphs">VINT</text>
<text x="668" y="513.1999999999999" font-family="Liberation Sans" font-size="8.3" fill="#d01c1c" stroke="#d01c1c" stroke-width="0.25" text-anchor="end" textLength="34" lengthAdjust="spacingAndGlyphs">STO_PRIO</text>
<text x="709.4" y="519.1999999999999" font-family="Liberation Sans" font-size="8.4" fill="#6e6e6e" stroke="#6e6e6e" stroke-width="0.25" text-anchor="start" textLength="15.6" lengthAdjust="spacingAndGlyphs">GND</text>
<text x="729" y="519.1999999999999" font-family="Liberation Sans" font-size="8.3" fill="#151515" stroke="#151515" stroke-width="0.25" text-anchor="start" textLength="7" lengthAdjust="spacingAndGlyphs">or</text>
<text x="739" y="519.1999999999999" font-family="Liberation Sans" font-size="8.3" fill="#3d8fe0" stroke="#3d8fe0" stroke-width="0.25" text-anchor="start" textLength="16.6" lengthAdjust="spacingAndGlyphs">VINT</text>
<text x="668" y="528.6" font-family="Liberation Sans" font-size="8.3" fill="#d01c1c" stroke="#d01c1c" stroke-width="0.25" text-anchor="end" textLength="33" lengthAdjust="spacingAndGlyphs">EN_SLEEP</text>
<text x="709.4" y="534.6" font-family="Liberation Sans" font-size="8.4" fill="#6e6e6e" stroke="#6e6e6e" stroke-width="0.25" text-anchor="start" textLength="15.6" lengthAdjust="spacingAndGlyphs">GND</text>
<text x="729" y="534.6" font-family="Liberation Sans" font-size="8.3" fill="#151515" stroke="#151515" stroke-width="0.25" text-anchor="start" textLength="7" lengthAdjust="spacingAndGlyphs">or</text>
<text x="739" y="534.6" font-family="Liberation Sans" font-size="8.3" fill="#3d8fe0" stroke="#3d8fe0" stroke-width="0.25" text-anchor="start" textLength="18.8" lengthAdjust="spacingAndGlyphs">LOAD</text>
<text x="668" y="544.1999999999999" font-family="Liberation Sans" font-size="8.3" fill="#d01c1c" stroke="#d01c1c" stroke-width="0.25" text-anchor="end" textLength="40.3" lengthAdjust="spacingAndGlyphs">EN_STO_CH</text>
<text x="709.4" y="550.1999999999999" font-family="Liberation Sans" font-size="8.4" fill="#6e6e6e" stroke="#6e6e6e" stroke-width="0.25" text-anchor="start" textLength="15.6" lengthAdjust="spacingAndGlyphs">GND</text>
<text x="729" y="550.1999999999999" font-family="Liberation Sans" font-size="8.3" fill="#151515" stroke="#151515" stroke-width="0.25" text-anchor="start" textLength="7" lengthAdjust="spacingAndGlyphs">or</text>
<text x="739" y="550.1999999999999" font-family="Liberation Sans" font-size="8.3" fill="#3d8fe0" stroke="#3d8fe0" stroke-width="0.25" text-anchor="start" textLength="18.8" lengthAdjust="spacingAndGlyphs">LOAD</text>
<text x="668" y="559.9" font-family="Liberation Sans" font-size="8.3" fill="#d01c1c" stroke="#d01c1c" stroke-width="0.25" text-anchor="end" textLength="23" lengthAdjust="spacingAndGlyphs">EN_HP</text>
<text x="709.4" y="565.9" font-family="Liberation Sans" font-size="8.4" fill="#6e6e6e" stroke="#6e6e6e" stroke-width="0.25" text-anchor="start" textLength="15.6" lengthAdjust="spacingAndGlyphs">GND</text>
<text x="729" y="565.9" font-family="Liberation Sans" font-size="8.3" fill="#151515" stroke="#151515" stroke-width="0.25" text-anchor="start" textLength="7" lengthAdjust="spacingAndGlyphs">or</text>
<text x="739" y="565.9" font-family="Liberation Sans" font-size="8.3" fill="#3d8fe0" stroke="#3d8fe0" stroke-width="0.25" text-anchor="start" textLength="16.6" lengthAdjust="spacingAndGlyphs">VINT</text>
<text x="522.8" y="484" font-family="Liberation Sans" font-size="10.2" fill="#151515" stroke="#151515" stroke-width="0.25" text-anchor="middle" textLength="47" lengthAdjust="spacingAndGlyphs">Controller</text>
<text x="481.8" y="617.9" font-family="Liberation Sans" font-size="10.2" fill="#151515" stroke="#151515" stroke-width="0.25" text-anchor="middle" textLength="20" lengthAdjust="spacingAndGlyphs">POR</text>
<text x="564.5" y="617.9" font-family="Liberation Sans" font-size="10.2" fill="#151515" stroke="#151515" stroke-width="0.25" text-anchor="middle" textLength="25" lengthAdjust="spacingAndGlyphs">Clock</text>
<text x="445.6" y="653.8" font-family="Liberation Sans" font-size="8.4" fill="#6e6e6e" stroke="#6e6e6e" stroke-width="0.25" text-anchor="middle" textLength="15.9" lengthAdjust="spacingAndGlyphs">GND</text>
<text x="325" y="440" font-family="Liberation Sans" font-size="10.2" fill="#151515" stroke="#151515" stroke-width="0.25" text-anchor="end" textLength="24" lengthAdjust="spacingAndGlyphs">State</text>
<text x="325" y="450.7" font-family="Liberation Sans" font-size="10.2" fill="#151515" stroke="#151515" stroke-width="0.25" text-anchor="end" textLength="39" lengthAdjust="spacingAndGlyphs">Monitor</text>
<text x="263.8" y="472.5" font-family="Liberation Sans" font-size="8.3" fill="#151515" stroke="#151515" stroke-width="0.25" text-anchor="start" textLength="13" lengthAdjust="spacingAndGlyphs">STO</text>
<text x="263.8" y="519.3" font-family="Liberation Sans" font-size="8.3" fill="#151515" stroke="#151515" stroke-width="0.25" text-anchor="start" textLength="15.5" lengthAdjust="spacingAndGlyphs">VINT</text>
<text x="263.8" y="565.4" font-family="Liberation Sans" font-size="8.3" fill="#151515" stroke="#151515" stroke-width="0.25" text-anchor="start" textLength="18.5" lengthAdjust="spacingAndGlyphs">LOAD</text>
<text x="160.1" y="430.5" font-family="Liberation Sans" font-size="8.3" fill="#d01c1c" stroke="#d01c1c" stroke-width="0.25" text-anchor="start" textLength="46" lengthAdjust="spacingAndGlyphs">STO_CFG[3:0]</text>
<text x="160.1" y="446" font-family="Liberation Sans" font-size="8.3" fill="#d01c1c" stroke="#d01c1c" stroke-width="0.25" text-anchor="start" textLength="52" lengthAdjust="spacingAndGlyphs">LOAD_CFG[1:0]</text>
<text x="160.1" y="539.5" font-family="Liberation Sans" font-size="8.3" fill="#d01c1c" stroke="#d01c1c" stroke-width="0.25" text-anchor="start" textLength="39" lengthAdjust="spacingAndGlyphs">STO_OVDIS</text>
<text x="160.1" y="570.7" font-family="Liberation Sans" font-size="8.3" fill="#d01c1c" stroke="#d01c1c" stroke-width="0.25" text-anchor="start" textLength="31" lengthAdjust="spacingAndGlyphs">STO_RDY</text>
<text x="160.1" y="601.9" font-family="Liberation Sans" font-size="8.3" fill="#d01c1c" stroke="#d01c1c" stroke-width="0.25" text-anchor="start" textLength="37" lengthAdjust="spacingAndGlyphs">STO_OVCH</text>
<text x="242.5" y="649.2" font-family="Liberation Sans" font-size="10.2" fill="#151515" stroke="#151515" stroke-width="0.25" text-anchor="middle" textLength="19" lengthAdjust="spacingAndGlyphs">Vref</text>
<text x="46" y="497.8" font-family="Liberation Serif" font-size="9.8" fill="#151515" stroke="#151515" stroke-width="0" text-anchor="middle" textLength="22.7" lengthAdjust="spacingAndGlyphs">VSTO</text>
<text x="4.5" y="504.3" font-family="Liberation Sans" font-size="8.3" fill="#c9a032" stroke="#c9a032" stroke-width="0.25" text-anchor="start" textLength="29" lengthAdjust="spacingAndGlyphs">Optional</text>
<text x="30.5" y="529.3" font-family="Liberation Sans" font-size="8.3" fill="#151515" stroke="#151515" stroke-width="0.25" text-anchor="start" textLength="8.5" lengthAdjust="spacingAndGlyphs">R4</text>
<text x="30.5" y="560" font-family="Liberation Sans" font-size="8.3" fill="#151515" stroke="#151515" stroke-width="0.25" text-anchor="start" textLength="8.5" lengthAdjust="spacingAndGlyphs">R3</text>
<text x="30.5" y="591.8" font-family="Liberation Sans" font-size="8.3" fill="#151515" stroke="#151515" stroke-width="0.25" text-anchor="start" textLength="8.5" lengthAdjust="spacingAndGlyphs">R2</text>
<text x="30.5" y="622.3" font-family="Liberation Sans" font-size="8.3" fill="#151515" stroke="#151515" stroke-width="0.25" text-anchor="start" textLength="8.5" lengthAdjust="spacingAndGlyphs">R1</text>
</svg>
</body></html>
